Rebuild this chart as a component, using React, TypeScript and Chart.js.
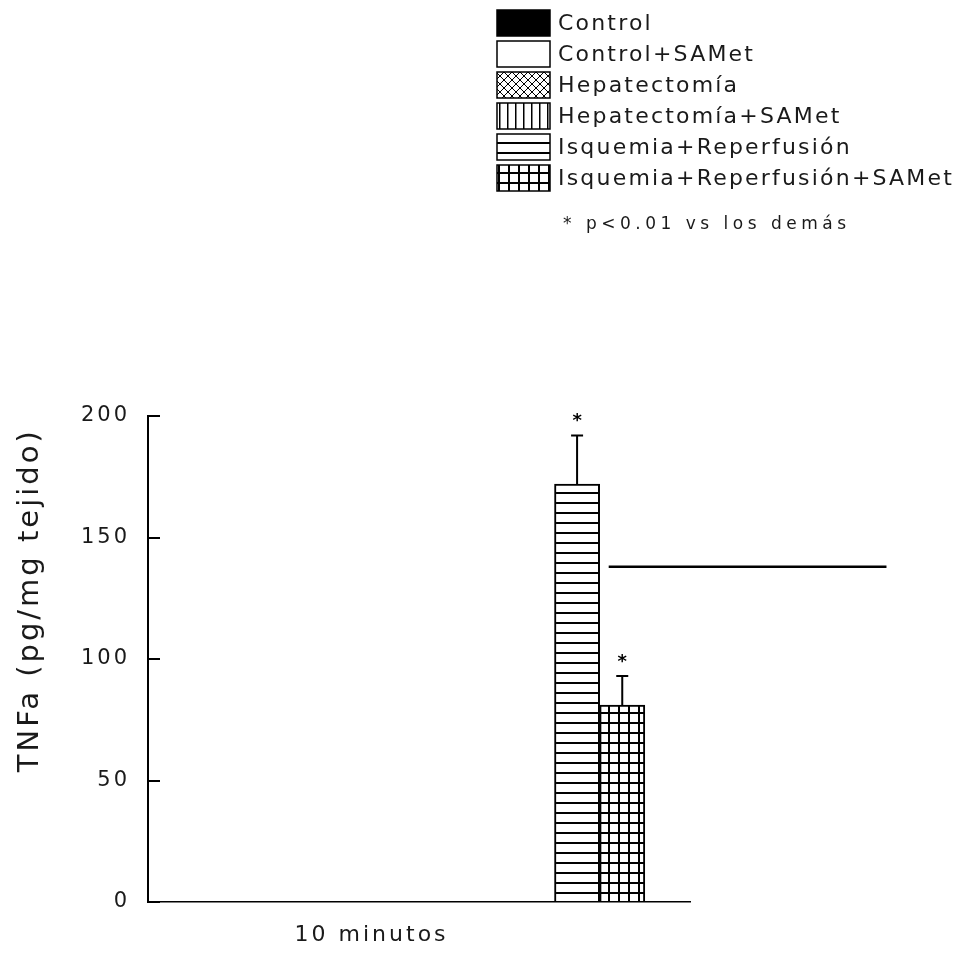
import React, { useEffect, useRef } from "react";
import { Chart, registerables } from "chart.js";

Chart.register(...registerables);

// ---------- data ----------
const grupos = [
  "Control",
  "Control+SAMet",
  "Hepatectomía",
  "Hepatectomía+SAMet",
  "Isquemia+Reperfusión",
  "Isquemia+Reperfusión+SAMet",
];
const posiciones = [5.5, 6.5, 7.5, 8.5, 9.5, 10.5];
const valores = [0, 0, 0, 0, 172, 81];
const errores = [0, 0, 0, 0, 20, 12];
const significativo = [false, false, false, false, true, true];
const ticksY = [0, 50, 100, 150, 200];
const etiquetaX = "10 minutos";
const posicionEtiquetaX = 4.95;
const tituloY = "TNFa (pg/mg tejido)";
const nota = "* p<0.01 vs los demás";
const lineaRefX = [10.2, 16.35];
const lineaRefY = [138, 138];

// ---------- styles ----------
const tramas = ["solid", "blank", "cross", "vertical", "horizontal", "grid"];
const FONT = "'DejaVu Sans', sans-serif";
const INK = "#1a1a1a";

function makePattern(kind: string): any {
  if (kind === "solid") return "#000";
  if (kind === "blank") return "#fff";
  const c = document.createElement("canvas");
  let w = 10;
  let h = 10;
  if (kind === "vertical" || kind === "cross") {
    w = 8;
    h = 8;
  }
  c.width = w;
  c.height = h;
  const g = c.getContext("2d")!;
  g.fillStyle = "#fff";
  g.fillRect(0, 0, w, h);
  g.fillStyle = "#000";
  g.strokeStyle = "#000";
  if (kind === "horizontal") g.fillRect(0, 2, w, 2);
  if (kind === "grid") {
    g.fillRect(0, 2, w, 2);
    g.fillRect(8, 0, 2, h);
  }
  if (kind === "vertical") g.fillRect(3, 0, 1.5, h);
  if (kind === "cross") {
    g.lineWidth = 1;
    g.beginPath();
    g.moveTo(0, 0);
    g.lineTo(w, h);
    g.moveTo(w, 0);
    g.lineTo(0, h);
    g.stroke();
  }
  return g.createPattern(c, "repeat");
}

const spacingPlugin = {
  id: "spacing",
  beforeDraw(chart: any) {
    (chart.ctx as any).letterSpacing = "3px";
  },
};

const errorPlugin = {
  id: "errores",
  afterDatasetsDraw(chart: any) {
    const ctx = chart.ctx;
    const meta = chart.getDatasetMeta(0);
    const ys = chart.scales.y;
    ctx.save();
    (ctx as any).letterSpacing = "0px";
    ctx.strokeStyle = "#000";
    ctx.fillStyle = "#000";
    ctx.lineWidth = 2;
    meta.data.forEach((bar: any, i: number) => {
      if (errores[i] > 0) {
        const x = bar.x;
        const yTop = ys.getPixelForValue(valores[i] + errores[i]);
        ctx.beginPath();
        ctx.moveTo(x, bar.y);
        ctx.lineTo(x, yTop);
        ctx.moveTo(x - 6, yTop);
        ctx.lineTo(x + 6, yTop);
        ctx.stroke();
        if (significativo[i]) {
          ctx.font = `bold 18px ${FONT}`;
          ctx.textAlign = "center";
          ctx.textBaseline = "middle";
          ctx.fillText("*", x, yTop - 14);
        }
      }
    });
    ctx.restore();
  },
};

const legendPlugin = {
  id: "leyendaManual",
  afterDraw(chart: any) {
    const ctx = chart.ctx;
    const ds = chart.data.datasets[0];
    ctx.save();
    ctx.textAlign = "left";
    ctx.textBaseline = "middle";
    grupos.forEach((g, i) => {
      const top = 10 + i * 31;
      ctx.fillStyle = ds.backgroundColor[i];
      ctx.fillRect(497, top, 53, 26);
      ctx.strokeStyle = "#000";
      ctx.lineWidth = 1.5;
      ctx.strokeRect(497, top, 53, 26);
      ctx.fillStyle = INK;
      (ctx as any).letterSpacing = "2.2px";
      ctx.font = `22px ${FONT}`;
      ctx.fillText(g, 558, top + 14);
    });
    (ctx as any).letterSpacing = "4.5px";
    ctx.font = `17px ${FONT}`;
    ctx.fillText(nota, 563, 225);
    ctx.restore();
  },
};

export default function App() {
  const ref = useRef<HTMLCanvasElement | null>(null);

  useEffect(() => {
    if (!ref.current) return;
    const patterns = tramas.map(makePattern);
    const chart = new Chart(ref.current, {
      type: "bar",
      data: {
        datasets: [
          {
            type: "bar",
            label: "TNFa",
            data: grupos.map((_, i) => ({ x: posiciones[i], y: valores[i] })),
            backgroundColor: patterns,
            borderColor: "#000",
            borderWidth: 2,
            categoryPercentage: 1,
            barPercentage: 1,
          } as any,
          {
            type: "line",
            label: "ref",
            data: lineaRefX.map((x, i) => ({ x, y: lineaRefY[i] })),
            borderColor: "#000",
            borderWidth: 2.5,
            pointRadius: 0,
            clip: false,
          } as any,
        ],
      },
      options: {
        responsive: false,
        animation: false,
        devicePixelRatio: 1,
        layout: { padding: { left: 0, top: 416, right: 283, bottom: 0 } },
        plugins: { legend: { display: false }, tooltip: { enabled: false } },
        scales: {
          x: {
            type: "linear",
            min: 0,
            max: 12,
            offset: false,
            grid: { display: false },
            border: { display: true, color: "#000", width: 1.5 },
            afterBuildTicks: (s: any) => {
              s.ticks = [{ value: posicionEtiquetaX }];
            },
            ticks: {
              autoSkip: false,
              maxRotation: 0,
              padding: 12,
              color: INK,
              font: { family: FONT, size: 22 },
              callback: () => etiquetaX,
            },
            afterFit: (s: any) => {
              s.height = 55;
            },
          },
          y: {
            type: "linear",
            min: 0,
            max: 200,
            afterBuildTicks: (s: any) => {
              s.ticks = ticksY.map((v) => ({ value: v }));
            },
            grid: { drawOnChartArea: false, tickLength: -12, color: "#000", lineWidth: 2 },
            border: { display: true, color: "#000", width: 2 },
            ticks: { padding: 30, color: INK, font: { family: FONT, size: 21 } },
            title: {
              display: true,
              text: tituloY + "\u00a0",
              align: "end",
              color: INK,
              font: { family: FONT, size: 29 },
              padding: { top: 13, bottom: 0 },
            },
            afterFit: (s: any) => {
              s.width = 148;
            },
          },
        },
      } as any,
      plugins: [spacingPlugin, errorPlugin, legendPlugin],
    });
    return () => chart.destroy();
  }, []);

  return (
    <div style={{ position: "absolute", left: 0, top: 0, width: 973, height: 957, background: "#fff" }}>
      <canvas ref={ref} width={973} height={957} style={{ display: "block" }} />
    </div>
  );
}
